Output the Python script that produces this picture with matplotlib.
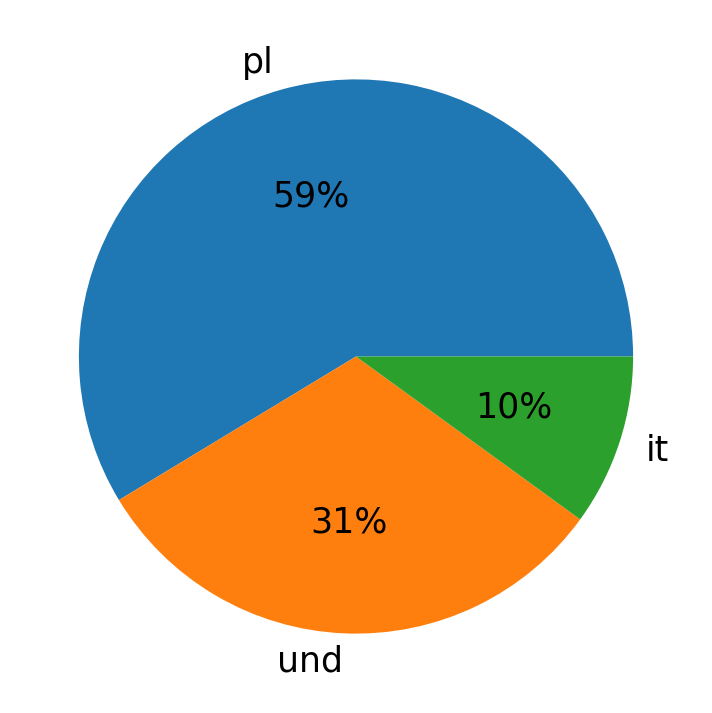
import matplotlib.pyplot as plt

labels = ['pl', 'und', 'it']
counts = [88, 47, 15]

fig, ax = plt.subplots(figsize=(7.12, 7.13), dpi=100)
ax.pie(counts, labels=labels, autopct='%1.0f%%',
       textprops={'fontsize': 25})
ax.set_aspect('equal')
plt.subplots_adjust(left=0.0135, right=0.9865, bottom=0.0135, top=0.9865)
fig.savefig('out.png')
